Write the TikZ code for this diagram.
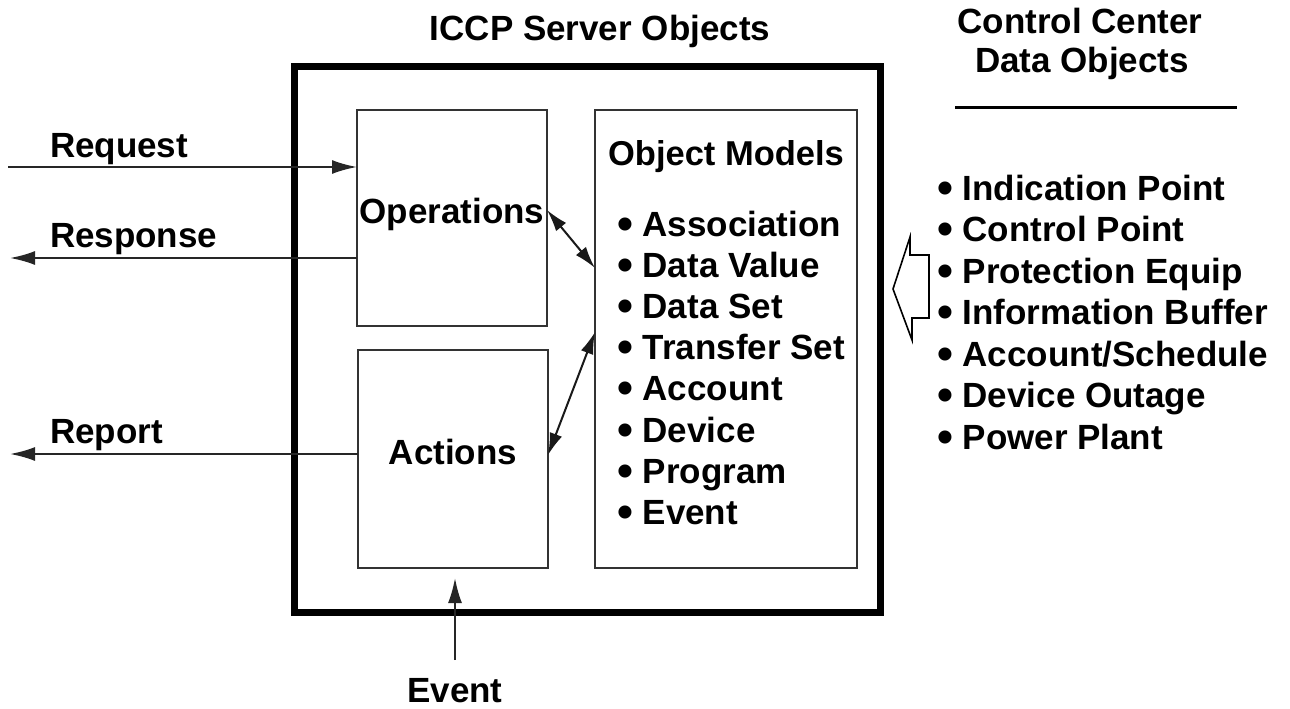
\documentclass[tikz,border=0pt]{standalone}
\usepackage{fontspec}
\setmainfont{Liberation Sans}
\usetikzlibrary{arrows.meta,calc}
\newcommand\dotmark{\raisebox{-0.09em}{\scalebox{1.3}{•}}}
\begin{document}
\begin{tikzpicture}[x=1pt,y=-1pt,
  txt/.style={font=\bfseries\fontsize{35}{40}\selectfont, inner sep=0pt, outer sep=0pt},
  subttl/.style={font=\bfseries\fontsize{34.5}{38}\selectfont, inner sep=0pt, outer sep=0pt},
  server/.style={draw=black, line width=7pt, inner sep=0pt, outer sep=0pt, anchor=north west},
  part/.style={draw=black!80, line width=2.4pt, fill=white, inner sep=0pt, outer sep=0pt, anchor=north west},
  arr/.style={draw=black!85, line width=2pt, -{Latex[length=25pt,width=14pt]}},
  dbl/.style={draw=black!90, line width=2pt, {Latex[length=22pt,width=13pt]}-{Latex[length=22pt,width=13pt]}},
  rule/.style={draw=black, line width=3pt},
  hollow/.style={draw=black, line width=1.6pt, fill=white, line join=miter}
]
\useasboundingbox (0,0) rectangle (1290,709);

% outer server frame and its three parts
\node[server, minimum width=586pt, minimum height=545pt] (srv) at (294,67) {};
\node[part, minimum width=190pt, minimum height=216pt] (ops) at (357,110) {};
\node[part, minimum width=190pt, minimum height=218pt] (act) at (358,350) {};
\node[part, minimum width=262pt, minimum height=458pt] (obj) at (595,110) {};

% headings
\node[txt, anchor=base] (ttl) at (600,41) {ICCP Server Objects};
\node[txt, anchor=base] (cc1) at (1080,34) {Control Center};
\node[txt, anchor=base] (cc2) at (1082,72) {Data Objects};
\coordinate (ulA) at (955,107);
\coordinate (ulB) at (1237,107);
\draw[rule] (ulA) -- (ulB);

% part labels
\node[txt, anchor=base] (opslbl) at (452,223) {Operations};
\node[txt, anchor=base] (actlbl) at (453,464) {Actions};
\node[subttl, anchor=base] (objlbl) at (726,165) {Object Models};

% object model list
\foreach \item [count=\i from 0] in {Association,Data Value,Data Set,Transfer Set,Account,Device,Program,Event}
  \node[txt, anchor=base west] (om\i) at (617,{236+41.2*\i}) {\dotmark\ \item};

% control center data object list
\foreach \item [count=\i from 0] in {Indication Point,Control Point,Protection Equip,Information Buffer,Account/Schedule,Device Outage,Power Plant}
  \node[txt, anchor=base west] (cc\i) at (937,{200+41.5*\i}) {\dotmark\ \item};

% hollow block arrow feeding the object models
\draw[hollow] (929,255) -- (910,255) -- (910,237) -- (893,289) -- (912,340) -- (912,318) -- (929,318) -- cycle;

% external messages
\node[txt, anchor=base west] (reqlbl) at (50,157) {Request};
\node[txt, anchor=base west] (reslbl) at (50,247) {Response};
\node[txt, anchor=base west] (replbl) at (50,443) {Report};
\coordinate (reqin) at (8,167);
\coordinate (resout) at (10,258);
\coordinate (repout) at (10,454);
\draw[arr] (reqin) -- (reqin -| ops.west);
\draw[arr] (resout -| ops.west) -- (resout);
\draw[arr] (repout -| act.west) -- (repout);

% links between the parts
\draw[dbl] ([yshift=-100pt]ops.north east) -- ([yshift=-158pt]obj.north west);
\draw[dbl] ([yshift=-105pt]act.north east) -- ([yshift=-222pt]obj.north west);

% incoming event
\node[txt, anchor=base] (evlbl) at (455,702) {Event};
\coordinate (evin) at (455,660);
\draw[arr, shorten >=10pt] (evin) -- (evin |- act.south);
\end{tikzpicture}
\end{document}
